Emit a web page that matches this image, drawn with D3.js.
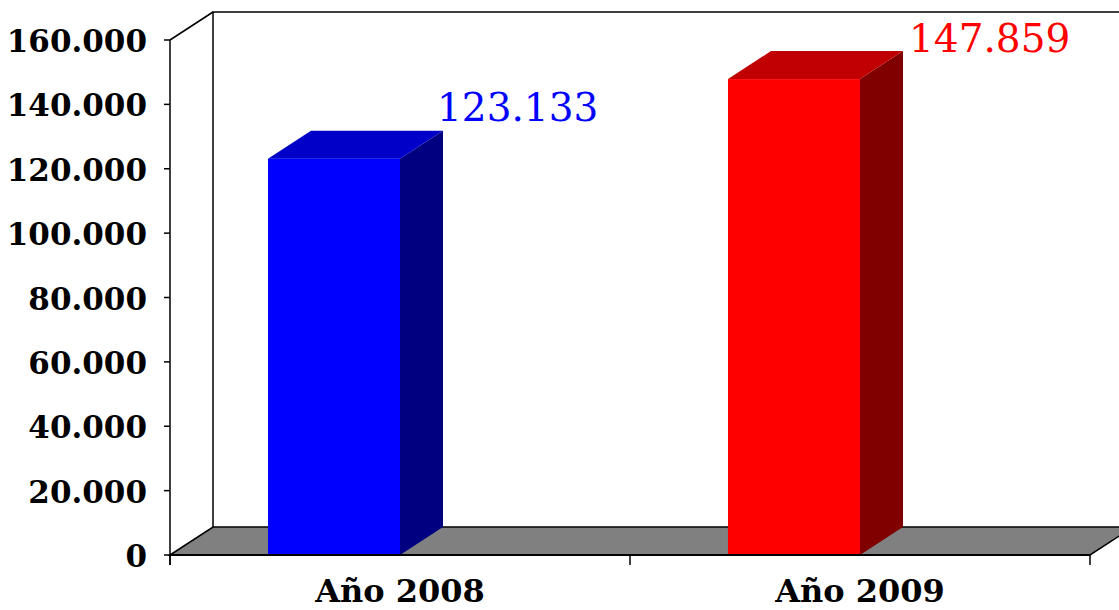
<!DOCTYPE html>
<html>
<head>
<meta charset="utf-8">
<script src="https://cdnjs.cloudflare.com/ajax/libs/d3/7.8.5/d3.min.js"></script>
<style>
  body { margin: 0; background: #fff; }
  svg { display: block; }
</style>
</head>
<body>
<div id="chart"></div>
<script>
// data
let categories = ["Año 2008", "Año 2009"];
let values = [123133, 147859];
let valueLabels = ["123.133", "147.859"];
let frontColors = ["#0000FF", "#FF0000"];
let topColors = ["#0000C8", "#C00000"];
let sideColors = ["#000080", "#800000"];
let yTicks = [0, 20000, 40000, 60000, 80000, 100000, 120000, 140000, 160000];

let width = 1119, height = 610;
let plot = { left: 170, right: 1090, top: 40, bottom: 555 };
let depth = { dx: 43, dy: -28 };

let svg = d3.select("#chart")
    .append("svg")
    .attr("width", width)
    .attr("height", height);

let x = d3.scaleBand()
    .domain(categories)
    .range([plot.left, plot.right]);

let y = d3.scaleLinear()
    .domain([0, 160000])
    .range([plot.bottom, plot.top]);

let fmt = function (d) { return d3.format(",")(d).replace(/,/g, "."); };

// back wall
svg.append("path")
    .attr("d", "M" + (plot.left + depth.dx) + "," + (y(0) + depth.dy) +
        "V" + (y(160000) + depth.dy) + "H" + (plot.right + depth.dx))
    .attr("fill", "none")
    .attr("stroke", "#000")
    .attr("stroke-width", 1.5);

// floor
svg.append("path")
    .attr("d", "M" + plot.left + "," + y(0) +
        "L" + (plot.left + depth.dx) + "," + (y(0) + depth.dy) +
        "L" + (plot.right + depth.dx) + "," + (y(0) + depth.dy) +
        "L" + plot.right + "," + y(0) + "Z")
    .attr("fill", "#808080")
    .attr("stroke", "#000")
    .attr("stroke-width", 1.5);

// bars
let bw = x.bandwidth() * 0.287;
let boff = x.bandwidth() * 0.213;

let bars = svg.selectAll("g.bar")
    .data(values)
    .enter()
    .append("g")
    .attr("class", "bar");

bars.append("path") // side
    .attr("d", function (d, i) {
        let x1 = x(categories[i]) + boff + bw;
        return "M" + x1 + "," + y(0) + "L" + (x1 + depth.dx) + "," + (y(0) + depth.dy) +
            "L" + (x1 + depth.dx) + "," + (y(d) + depth.dy) + "L" + x1 + "," + y(d) + "Z";
    })
    .attr("fill", function (d, i) { return sideColors[i]; });

bars.append("path") // top
    .attr("d", function (d, i) {
        let x0 = x(categories[i]) + boff;
        return "M" + x0 + "," + y(d) + "L" + (x0 + depth.dx) + "," + (y(d) + depth.dy) +
            "L" + (x0 + bw + depth.dx) + "," + (y(d) + depth.dy) + "L" + (x0 + bw) + "," + y(d) + "Z";
    })
    .attr("fill", function (d, i) { return topColors[i]; });

bars.append("rect") // front
    .attr("x", function (d, i) { return x(categories[i]) + boff; })
    .attr("y", function (d) { return y(d); })
    .attr("width", bw)
    .attr("height", function (d) { return y(0) - y(d); })
    .attr("fill", function (d, i) { return frontColors[i]; });

// value labels
bars.append("text")
    .attr("x", function (d, i) {
        let yy = y(d) + depth.dy - 10;
        return x(categories[i]) + boff + bw + depth.dx - 6 + (yy < 52 ? 12 : 0);
    })
    .attr("y", function (d) { return Math.max(y(d) + depth.dy - 10, 52); })
    .attr("font-family", "DejaVu Serif")
    .attr("font-size", 39)
    .attr("fill", function (d, i) { return frontColors[i]; })
    .text(function (d, i) { return valueLabels[i]; });

// y axis
svg.append("line")
    .attr("x1", plot.left).attr("x2", plot.left)
    .attr("y1", y(160000)).attr("y2", y(0) + 10)
    .attr("stroke", "#000").attr("stroke-width", 1.5);

svg.append("line")
    .attr("x1", plot.left).attr("y1", y(160000))
    .attr("x2", plot.left + depth.dx).attr("y2", y(160000) + depth.dy)
    .attr("stroke", "#000").attr("stroke-width", 1.5);

let yt = svg.append("g");
yt.selectAll("line")
    .data(yTicks)
    .enter()
    .append("line")
    .attr("x1", plot.left - 6).attr("x2", plot.left)
    .attr("y1", function (d) { return y(d); })
    .attr("y2", function (d) { return y(d); })
    .attr("stroke", "#000").attr("stroke-width", 1.5);

yt.selectAll("text")
    .data(yTicks)
    .enter()
    .append("text")
    .attr("x", 147)
    .attr("y", function (d) { return y(d) + 12; })
    .attr("text-anchor", "end")
    .attr("font-family", "DejaVu Serif")
    .attr("font-weight", "bold")
    .attr("font-size", 31)
    .text(function (d) { return fmt(d); });

// x axis
svg.append("line")
    .attr("x1", plot.left).attr("x2", plot.right)
    .attr("y1", y(0)).attr("y2", y(0))
    .attr("stroke", "#000").attr("stroke-width", 2);

svg.selectAll("line.xt")
    .data(categories.concat([null]))
    .enter()
    .append("line")
    .attr("class", "xt")
    .attr("x1", function (d, i) { return plot.left + i * x.bandwidth(); })
    .attr("x2", function (d, i) { return plot.left + i * x.bandwidth(); })
    .attr("y1", y(0)).attr("y2", y(0) + 10)
    .attr("stroke", "#000").attr("stroke-width", 1.5);

svg.selectAll("text.xl")
    .data(categories)
    .enter()
    .append("text")
    .attr("class", "xl")
    .attr("x", function (d) { return x(d) + x.bandwidth() / 2; })
    .attr("y", 602)
    .attr("text-anchor", "middle")
    .attr("font-family", "DejaVu Serif")
    .attr("font-weight", "bold")
    .attr("font-size", 32)
    .text(function (d) { return d; });
</script>
</body>
</html>
